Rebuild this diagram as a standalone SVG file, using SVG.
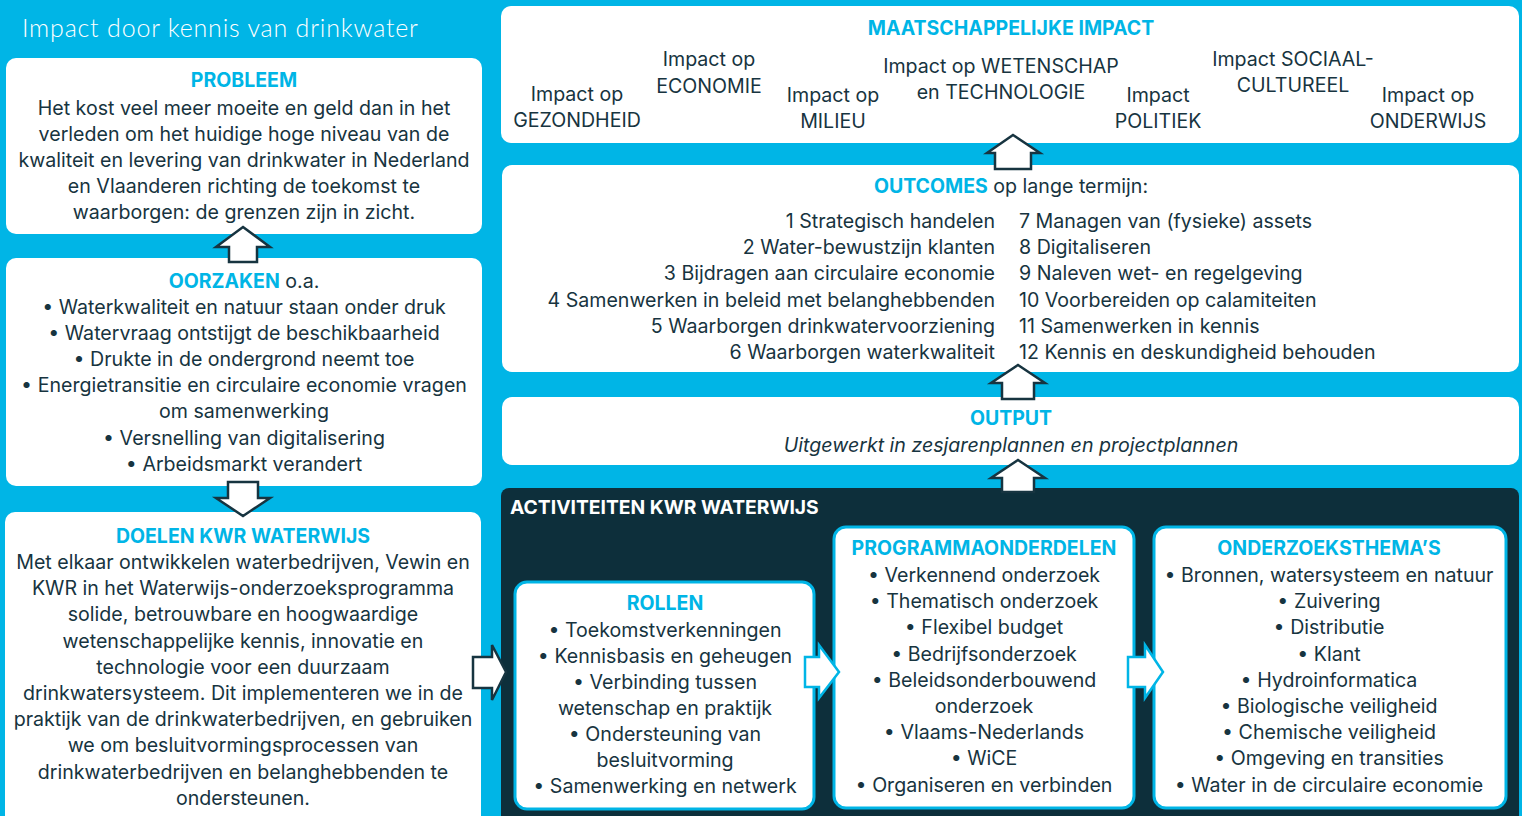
<svg xmlns="http://www.w3.org/2000/svg" width="1522" height="816" viewBox="0 0 1522 816">
  <style>
    .bg { fill: #00B5E6; }
    .card { fill: #FFFFFF; }
    .panel { fill: #0D2F3B; }
    .inner { fill: #FFFFFF; stroke: #00B5E6; stroke-width: 3; }
    .t { font-family: Inter, "Liberation Sans", sans-serif; font-size: 19.6px; fill: #173440; }
    .c { text-anchor: middle; }
    .r { text-anchor: end; }
    .h { font-family: Inter, "Liberation Sans", sans-serif; font-size: 19.5px; font-weight: 700; fill: #00B5E6; }
    .sub { font-family: Lato, "Open Sans", sans-serif; font-weight: 300; font-size: 25px; letter-spacing: 0.8px; fill: #FFFFFF; }
    .ptitle { font-family: Inter, "Liberation Sans", sans-serif; font-weight: 700; font-size: 19.3px; fill: #FFFFFF; }
    .it { font-style: italic; }
    .arrow-dark { fill: #FFFFFF; stroke: #173440; stroke-width: 2.5; stroke-linejoin: miter; }
    .arrow-cyan { fill: #FFFFFF; stroke: #00B5E6; stroke-width: 2.5; stroke-linejoin: miter; }
  </style>

  <rect class="bg" x="0" y="0" width="1522" height="816"/>

  <text class="sub" x="22" y="37">Impact door kennis van drinkwater</text>

  <!-- left column -->
  <g id="probleem">
    <rect class="card" x="6" y="58" width="476" height="176" rx="10"/>
    <text class="h c" x="244" y="87">PROBLEEM</text>
    <text class="t c" x="244" y="115"><tspan x="244">Het kost veel meer moeite en geld dan in het</tspan><tspan x="244" dy="26">verleden om het huidige hoge niveau van de</tspan><tspan x="244" dy="26">kwaliteit en levering van drinkwater in Nederland</tspan><tspan x="244" dy="26">en Vlaanderen richting de toekomst te</tspan><tspan x="244" dy="26">waarborgen: de grenzen zijn in zicht.</tspan></text>
  </g>

  <g id="oorzaken">
    <rect class="card" x="6" y="258" width="476" height="228" rx="10"/>
    <text class="t c" x="244" y="288"><tspan class="h">OORZAKEN</tspan> o.a.</text>
    <text class="t c" x="244" y="314"><tspan x="244">• Waterkwaliteit en natuur staan onder druk</tspan><tspan x="244" dy="26.1">• Watervraag ontstijgt de beschikbaarheid</tspan><tspan x="244" dy="26.1">• Drukte in de ondergrond neemt toe</tspan><tspan x="244" dy="26.1">• Energietransitie en circulaire economie vragen</tspan><tspan x="244" dy="26.1">om samenwerking</tspan><tspan x="244" dy="26.1">• Versnelling van digitalisering</tspan><tspan x="244" dy="26.1">• Arbeidsmarkt verandert</tspan></text>
  </g>

  <g id="doelen">
    <rect class="card" x="5" y="512" width="476" height="320" rx="10"/>
    <text class="h c" x="243" y="543">DOELEN KWR WATERWIJS</text>
    <text class="t c" x="243" y="569"><tspan x="243">Met elkaar ontwikkelen waterbedrijven, Vewin en</tspan><tspan x="243" dy="26.2">KWR in het Waterwijs-onderzoeksprogramma</tspan><tspan x="243" dy="26.2">solide, betrouwbare en hoogwaardige</tspan><tspan x="243" dy="26.2">wetenschappelijke kennis, innovatie en</tspan><tspan x="243" dy="26.2">technologie voor een duurzaam</tspan><tspan x="243" dy="26.2">drinkwatersysteem. Dit implementeren we in de</tspan><tspan x="243" dy="26.2">praktijk van de drinkwaterbedrijven, en gebruiken</tspan><tspan x="243" dy="26.2">we om besluitvormingsprocessen van</tspan><tspan x="243" dy="26.2">drinkwaterbedrijven en belanghebbenden te</tspan><tspan x="243" dy="26.2">ondersteunen.</tspan></text>
  </g>

  <!-- right column -->
  <g id="impact">
    <rect class="card" x="501" y="6" width="1018" height="137" rx="10"/>
    <text class="h c" x="1011" y="35">MAATSCHAPPELIJKE IMPACT</text>
    <text class="t c" x="577" y="101"><tspan x="577">Impact op</tspan><tspan x="577" dy="26">GEZONDHEID</tspan></text>
    <text class="t c" x="709" y="66"><tspan x="709">Impact op</tspan><tspan x="709" dy="27">ECONOMIE</tspan></text>
    <text class="t c" x="833" y="102"><tspan x="833">Impact op</tspan><tspan x="833" dy="26">MILIEU</tspan></text>
    <text class="t c" x="1001" y="73"><tspan x="1001">Impact op WETENSCHAP</tspan><tspan x="1001" dy="26">en TECHNOLOGIE</tspan></text>
    <text class="t c" x="1158" y="102"><tspan x="1158">Impact</tspan><tspan x="1158" dy="26">POLITIEK</tspan></text>
    <text class="t c" x="1293" y="66"><tspan x="1293">Impact SOCIAAL-</tspan><tspan x="1293" dy="26">CULTUREEL</tspan></text>
    <text class="t c" x="1428" y="102"><tspan x="1428">Impact op</tspan><tspan x="1428" dy="26">ONDERWIJS</tspan></text>
  </g>

  <g id="outcomes">
    <rect class="card" x="502" y="165" width="1017" height="207" rx="10"/>
    <text class="t c" x="1011" y="193"><tspan class="h">OUTCOMES</tspan> op lange termijn:</text>
    <text class="t r" x="995" y="228"><tspan x="995">1 Strategisch handelen</tspan><tspan x="995" dy="26.2">2 Water-bewustzijn klanten</tspan><tspan x="995" dy="26.2">3 Bijdragen aan circulaire economie</tspan><tspan x="995" dy="26.2">4 Samenwerken in beleid met belanghebbenden</tspan><tspan x="995" dy="26.2">5 Waarborgen drinkwatervoorziening</tspan><tspan x="995" dy="26.2">6 Waarborgen waterkwaliteit</tspan></text>
    <text class="t" x="1019" y="228"><tspan x="1019">7 Managen van (fysieke) assets</tspan><tspan x="1019" dy="26.2">8 Digitaliseren</tspan><tspan x="1019" dy="26.2">9 Naleven wet- en regelgeving</tspan><tspan x="1019" dy="26.2">10 Voorbereiden op calamiteiten</tspan><tspan x="1019" dy="26.2">11 Samenwerken in kennis</tspan><tspan x="1019" dy="26.2">12 Kennis en deskundigheid behouden</tspan></text>
  </g>

  <g id="output">
    <rect class="card" x="502" y="397" width="1017" height="68" rx="10"/>
    <text class="h c" x="1011" y="425">OUTPUT</text>
    <text class="t c it" x="1011" y="452">Uitgewerkt in zesjarenplannen en projectplannen</text>
  </g>

  <g id="activiteiten">
    <rect class="panel" x="501" y="488" width="1018" height="340" rx="8"/>
    <text class="ptitle" x="510" y="514">ACTIVITEITEN KWR WATERWIJS</text>
  </g>

  <g id="rollen">
    <rect class="inner" x="515" y="582" width="299" height="227" rx="12"/>
    <text class="h c" x="665" y="610">ROLLEN</text>
    <text class="t c" x="665" y="637"><tspan x="665">• Toekomstverkenningen</tspan><tspan x="665" dy="26">• Kennisbasis en geheugen</tspan><tspan x="665" dy="26">• Verbinding tussen</tspan><tspan x="665" dy="26">wetenschap en praktijk</tspan><tspan x="665" dy="26">• Ondersteuning van</tspan><tspan x="665" dy="26">besluitvorming</tspan><tspan x="665" dy="26">• Samenwerking en netwerk</tspan></text>
  </g>

  <g id="programmaonderdelen">
    <rect class="inner" x="834" y="527" width="300" height="281" rx="12"/>
    <text class="h c" x="984" y="555">PROGRAMMAONDERDELEN</text>
    <text class="t c" x="984" y="582"><tspan x="984">• Verkennend onderzoek</tspan><tspan x="984" dy="26.2">• Thematisch onderzoek</tspan><tspan x="984" dy="26.2">• Flexibel budget</tspan><tspan x="984" dy="26.2">• Bedrijfsonderzoek</tspan><tspan x="984" dy="26.2">• Beleidsonderbouwend</tspan><tspan x="984" dy="26.2">onderzoek</tspan><tspan x="984" dy="26.2">• Vlaams-Nederlands</tspan><tspan x="984" dy="26.2">• WiCE</tspan><tspan x="984" dy="26.2">• Organiseren en verbinden</tspan></text>
  </g>

  <g id="onderzoeksthemas">
    <rect class="inner" x="1154" y="527" width="352" height="281" rx="12"/>
    <text class="h c" x="1329" y="555">ONDERZOEKSTHEMA’S</text>
    <text class="t c" x="1329" y="582"><tspan x="1329">• Bronnen, watersysteem en natuur</tspan><tspan x="1329" dy="26.2">• Zuivering</tspan><tspan x="1329" dy="26.2">• Distributie</tspan><tspan x="1329" dy="26.2">• Klant</tspan><tspan x="1329" dy="26.2">• Hydroinformatica</tspan><tspan x="1329" dy="26.2">• Biologische veiligheid</tspan><tspan x="1329" dy="26.2">• Chemische veiligheid</tspan><tspan x="1329" dy="26.2">• Omgeving en transities</tspan><tspan x="1329" dy="26.2">• Water in de circulaire economie</tspan></text>
  </g>

  <!-- block arrows between the stages -->
  <g id="connectors">
    <polygon class="arrow-dark" points="243,227 270,247 257,247 257,262 229,262 229,247 216,247"/>
    <polygon class="arrow-dark" points="228,482 258,482 258,498 270,498 243,516 216,498 228,498"/>
    <polygon class="arrow-dark" points="473,657 492,657 492,645 506,672 492,700 492,688 473,688"/>
    <polygon class="arrow-dark" points="1013,135 1040,153 1031,153 1031,169 995,169 995,153 987,153"/>
    <polygon class="arrow-dark" points="1018,365 1045,383 1034,383 1034,399 1002,399 1002,383 991,383"/>
    <polygon class="arrow-dark" points="1018,460 1045,478 1034,478 1034,492 1002,492 1002,478 991,478"/>
    <polygon class="arrow-cyan" points="805,657 819,657 819,645 839,672 819,698 819,687 805,687"/>
    <polygon class="arrow-cyan" points="1128,657 1145,657 1145,645 1163,672 1145,698 1145,687 1128,687"/>
  </g>
</svg>
